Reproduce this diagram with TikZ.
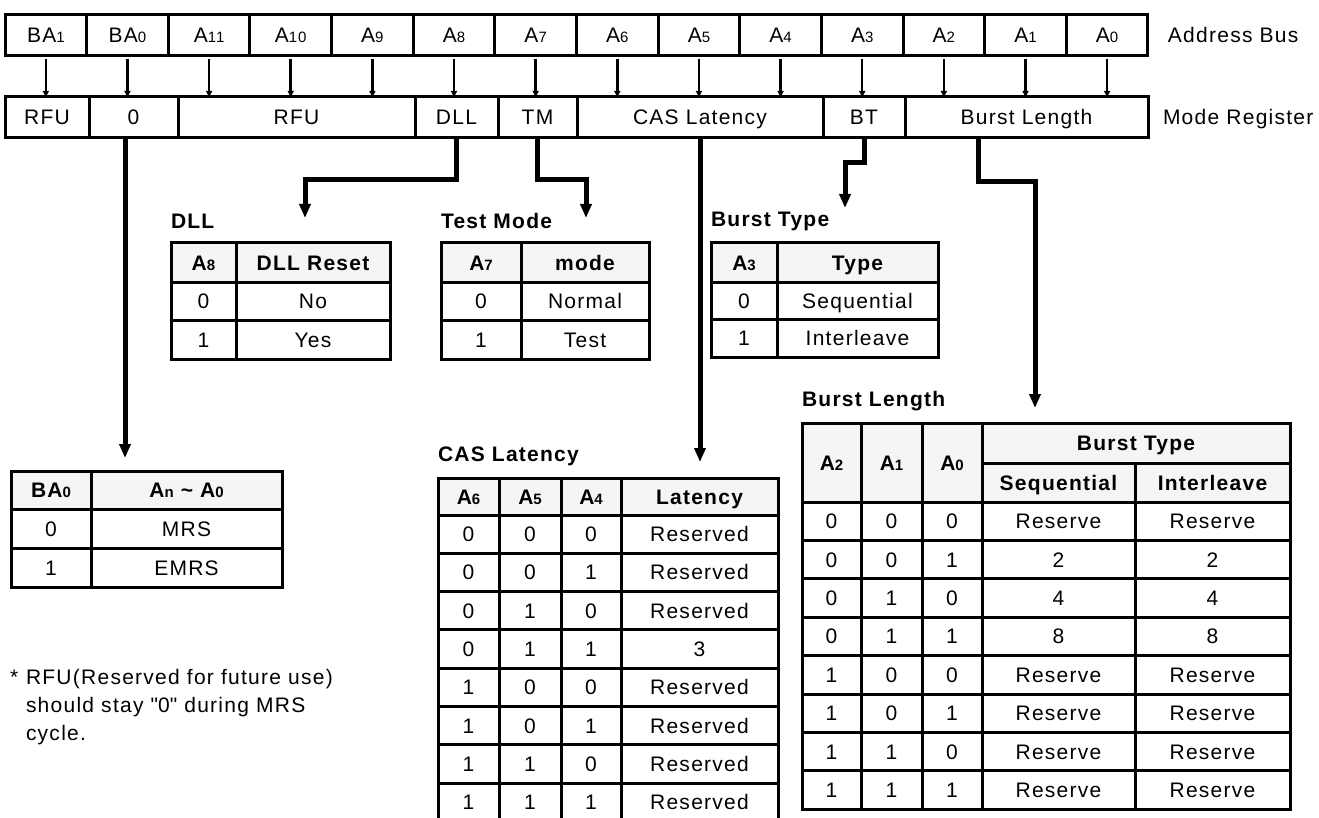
\documentclass[tikz,border=0pt]{standalone}
\usepackage{fontspec}
\setmainfont{Liberation Sans}[LetterSpace=6]
\usetikzlibrary{arrows.meta}
\newcommand{\subn}[1]{{\fontsize{15}{15}\selectfont #1}}
\tikzset{
  txt/.style={font=\fontsize{21}{25}\selectfont, text height=15pt, text depth=0pt, inner sep=0pt, outer sep=0pt},
  regbox/.style={txt, draw, line width=3pt, anchor=north west, minimum height=41pt},
  tcell/.style={txt, draw, line width=3pt, anchor=north west},
  thead/.style={tcell, fill=black!4, font=\fontsize{21}{25}\selectfont\bfseries},
  ttitle/.style={txt, anchor=base west, font=\fontsize{21}{25}\selectfont\bfseries},
  busarrow/.style={line width=2.5pt, -{Triangle[length=6pt,width=6pt]}, shorten <=3pt},
  heavy/.style={line width=5pt, -{Triangle[length=14pt,width=11pt]}}
}
\begin{document}
\begin{tikzpicture}[x=1pt, y=-1pt]
\useasboundingbox (0,0) rectangle (1319,818);
% address bus and mode register
\foreach \lbl [count=\i from 0] in {BA\subn1, BA\subn0, A\subn{11}, A\subn{10}, A\subn9, A\subn8, A\subn7, A\subn6, A\subn5, A\subn4, A\subn3, A\subn2, A\subn1, A\subn0}
  \node[regbox, minimum width=81.64pt] (bus\i) at ({5+81.64*\i},15) {\lbl};
\foreach \xa/\xb/\lbl/\nm in {5/89/RFU/rfua, 89/178/0/ba, 178/415/RFU/rfub, 415/498/DLL/dll, 498/577/TM/tm, 577/823/CAS Latency/cas, 823/905/BT/bt, 905/1148/Burst Length/bl}
  \node[regbox, minimum width={(\xb-\xa)*1pt}] (reg-\nm) at (\xa,97) {\lbl};
\foreach \i in {0,...,13}
  \draw[busarrow] (bus\i.south) -- (bus\i.south |- reg-rfua.north);
\node[txt, anchor=west] (bus-lbl) at ([xshift=20pt]bus13.east) {Address Bus};
\node[txt, anchor=west] (reg-lbl) at ([xshift=15pt]reg-bl.east) {Mode Register};

% connectors down to the tables
\coordinate (ba-tip) at (125,458);
\coordinate (dll-tip) at (305,218);
\coordinate (tm-tip) at (586,218);
\coordinate (cas-tip) at (700,462);
\coordinate (bt-tip) at (845,208);
\coordinate (bl-tip) at (1035,408);
\draw[heavy] (reg-ba.south -| ba-tip) -- (ba-tip);
\draw[heavy] (reg-dll.south) -- ++(0,42) -| (dll-tip);
\draw[heavy] (reg-tm.south) -- ++(0,42) -| (tm-tip);
\draw[heavy] (reg-cas.south) -- (cas-tip);
\draw[heavy] (reg-bt.south) -- ++(0,25) -| (bt-tip);
\draw[heavy] ([xshift=-48pt]reg-bl.south) -- ++(0,44) -| (bl-tip);

% DLL
\node[ttitle] (dll-title) at (171,229) {DLL};
\node[thead, minimum width=65pt, minimum height=39pt] (dll-h0) at (171,243) {A\subn8};
\node[thead, minimum width=154pt, minimum height=39pt] (dll-h1) at (236,243) {DLL Reset};
\foreach \a/\b [count=\r from 0] in {0/No, 1/Yes} {
  \node[tcell, minimum width=65pt, minimum height=38.5pt] (dll-a\r) at (171,{282+38.5*\r}) {\a};
  \node[tcell, minimum width=154pt, minimum height=38.5pt] (dll-b\r) at (236,{282+38.5*\r}) {\b};
}

% Test Mode
\node[ttitle] (tm-title) at (441,229) {Test Mode};
\node[thead, minimum width=80pt, minimum height=39pt] (tm-h0) at (441,243) {A\subn7};
\node[thead, minimum width=128pt, minimum height=39pt] (tm-h1) at (521,243) {mode};
\foreach \a/\b [count=\r from 0] in {0/Normal, 1/Test} {
  \node[tcell, minimum width=80pt, minimum height=38.5pt] (tm-a\r) at (441,{282+38.5*\r}) {\a};
  \node[tcell, minimum width=128pt, minimum height=38.5pt] (tm-b\r) at (521,{282+38.5*\r}) {\b};
}

% Burst Type
\node[ttitle] (bt-title) at (711,227) {Burst Type};
\node[thead, minimum width=66pt, minimum height=39pt] (bt-h0) at (711,243) {A\subn3};
\node[thead, minimum width=161pt, minimum height=39pt] (bt-h1) at (777,243) {Type};
\foreach \a/\b [count=\r from 0] in {0/Sequential, 1/Interleave} {
  \node[tcell, minimum width=66pt, minimum height=37.5pt] (bt-a\r) at (711,{282+37.5*\r}) {\a};
  \node[tcell, minimum width=161pt, minimum height=37.5pt] (bt-b\r) at (777,{282+37.5*\r}) {\b};
}

% BA0
\node[thead, minimum width=80pt, minimum height=38pt] (ba-h0) at (11,471) {BA\subn0};
\node[thead, minimum width=191pt, minimum height=38pt] (ba-h1) at (91,471) {A\subn{n} \textasciitilde{} A\subn0};
\foreach \a/\b [count=\r from 0] in {0/MRS, 1/EMRS} {
  \node[tcell, minimum width=80pt, minimum height=39pt] (ba-a\r) at (11,{509+39*\r}) {\a};
  \node[tcell, minimum width=191pt, minimum height=39pt] (ba-b\r) at (91,{509+39*\r}) {\b};
}
\node[txt, anchor=base west] (note-star) at (10,684) {*};
\node[txt, anchor=base west] (note-1) at (26,684) {RFU(Reserved for future use)};
\node[txt, anchor=base west] (note-2) at (26,712) {should stay \textquotedbl0\textquotedbl{} during MRS};
\node[txt, anchor=base west] (note-3) at (26,740) {cycle.};

% CAS Latency
\node[ttitle] (cas-title) at (438,461) {CAS Latency};
\node[thead, minimum width=61pt, minimum height=37pt] (cas-h0) at (438,478) {A\subn6};
\node[thead, minimum width=62pt, minimum height=37pt] (cas-h1) at (499,478) {A\subn5};
\node[thead, minimum width=60pt, minimum height=37pt] (cas-h2) at (561,478) {A\subn4};
\node[thead, minimum width=157pt, minimum height=37pt] (cas-h3) at (621,478) {Latency};
\foreach \a/\b/\c/\d [count=\r from 0] in {0/0/0/Reserved, 0/0/1/Reserved, 0/1/0/Reserved, 0/1/1/3, 1/0/0/Reserved, 1/0/1/Reserved, 1/1/0/Reserved, 1/1/1/Reserved} {
  \node[tcell, minimum width=61pt, minimum height=38.3pt] (cas-a\r) at (438,{515+38.3*\r}) {\a};
  \node[tcell, minimum width=62pt, minimum height=38.3pt] (cas-b\r) at (499,{515+38.3*\r}) {\b};
  \node[tcell, minimum width=60pt, minimum height=38.3pt] (cas-c\r) at (561,{515+38.3*\r}) {\c};
  \node[tcell, minimum width=157pt, minimum height=38.3pt] (cas-d\r) at (621,{515+38.3*\r}) {\d};
}

% Burst Length
\node[ttitle] (bl-title) at (802,406) {Burst Length};
\node[thead, minimum width=59pt, minimum height=79pt] (bl-h0) at (802,423) {A\subn2};
\node[thead, minimum width=61pt, minimum height=79pt] (bl-h1) at (861,423) {A\subn1};
\node[thead, minimum width=60pt, minimum height=79pt] (bl-h2) at (922,423) {A\subn0};
\node[thead, minimum width=308pt, minimum height=40pt] (bl-h3) at (982,423) {Burst Type};
\node[thead, minimum width=153pt, minimum height=39pt] (bl-h4) at (982,463) {Sequential};
\node[thead, minimum width=155pt, minimum height=39pt] (bl-h5) at (1135,463) {Interleave};
\foreach \a/\b/\c/\d/\e [count=\r from 0] in {0/0/0/Reserve/Reserve, 0/0/1/2/2, 0/1/0/4/4, 0/1/1/8/8, 1/0/0/Reserve/Reserve, 1/0/1/Reserve/Reserve, 1/1/0/Reserve/Reserve, 1/1/1/Reserve/Reserve} {
  \node[tcell, minimum width=59pt, minimum height=38.4pt] (bl-a\r) at (802,{502+38.4*\r}) {\a};
  \node[tcell, minimum width=61pt, minimum height=38.4pt] (bl-b\r) at (861,{502+38.4*\r}) {\b};
  \node[tcell, minimum width=60pt, minimum height=38.4pt] (bl-c\r) at (922,{502+38.4*\r}) {\c};
  \node[tcell, minimum width=153pt, minimum height=38.4pt] (bl-d\r) at (982,{502+38.4*\r}) {\d};
  \node[tcell, minimum width=155pt, minimum height=38.4pt] (bl-e\r) at (1135,{502+38.4*\r}) {\e};
}
\end{tikzpicture}
\end{document}
